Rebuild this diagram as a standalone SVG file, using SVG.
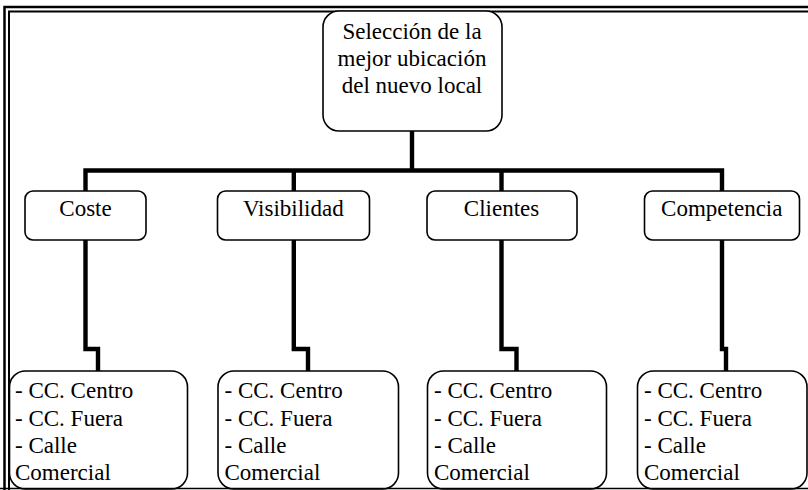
<svg xmlns="http://www.w3.org/2000/svg" width="808" height="490" viewBox="0 0 808 490" font-family="'Liberation Serif', 'Times New Roman', serif" font-size="23">
<style>
.box{fill:#fff;stroke:#000;stroke-width:1.6}
.t{fill:#000}
.c{text-anchor:middle}
.conn{fill:none;stroke:#000;stroke-width:4.4;stroke-linejoin:miter}
.frame{fill:none;stroke:#000}
</style>
<rect width="808" height="490" fill="#fff"/>
<g id="frame">
<path class="frame" d="M4.5,490 V7 H808" stroke-width="2.5"/>
<path class="frame" d="M9,490 V11.5 H808" stroke-width="2"/>
</g>
<g id="connectors">
<path class="conn" d="M412,131 V170.5"/>
<path class="conn" d="M85.5,191 V170.5 H722 V191"/>
<path class="conn" d="M293.8,170.5 V191"/>
<path class="conn" d="M501.5,170.5 V191"/>
<path class="conn" d="M85.5,240 V349 H98 V371"/>
<path class="conn" d="M293.8,240 V349 H308 V371"/>
<path class="conn" d="M501.5,240 V349 H516.5 V371"/>
<path class="conn" d="M722,240 V349 H726 V371"/>
</g>
<g id="root">
<rect class="box" x="323" y="11" width="179" height="120" rx="16"/>
<text class="t c" x="412" y="39">Selección de la</text>
<text class="t c" x="412" y="66">mejor ubicación</text>
<text class="t c" x="412" y="93">del nuevo local</text>
</g>
<g id="coste">
<rect class="box" x="25" y="191" width="121" height="49" rx="8"/>
<text class="t c" x="85.5" y="216">Coste</text>
</g>
<g id="visibilidad">
<rect class="box" x="217.5" y="191" width="152" height="49" rx="8"/>
<text class="t c" x="293.3" y="216">Visibilidad</text>
</g>
<g id="clientes">
<rect class="box" x="427" y="191" width="150" height="49" rx="8"/>
<text class="t c" x="501.5" y="216">Clientes</text>
</g>
<g id="competencia">
<rect class="box" x="644.5" y="191" width="155" height="49" rx="8"/>
<text class="t c" x="721.8" y="216">Competencia</text>
</g>
<g id="coste-opciones">
<rect class="box" x="9.5" y="371" width="178" height="118" rx="16"/>
<text class="t" x="15" y="398">- CC. Centro</text>
<text class="t" x="15" y="425.5">- CC. Fuera</text>
<text class="t" x="15" y="452.5">- Calle</text>
<text class="t" x="15" y="479.5">Comercial</text>
</g>
<g id="visibilidad-opciones">
<rect class="box" x="218" y="371" width="180.5" height="118" rx="16"/>
<text class="t" x="224.5" y="398">- CC. Centro</text>
<text class="t" x="224.5" y="425.5">- CC. Fuera</text>
<text class="t" x="224.5" y="452.5">- Calle</text>
<text class="t" x="224.5" y="479.5">Comercial</text>
</g>
<g id="clientes-opciones">
<rect class="box" x="427.5" y="371" width="179" height="118" rx="16"/>
<text class="t" x="434" y="398">- CC. Centro</text>
<text class="t" x="434" y="425.5">- CC. Fuera</text>
<text class="t" x="434" y="452.5">- Calle</text>
<text class="t" x="434" y="479.5">Comercial</text>
</g>
<g id="competencia-opciones">
<rect class="box" x="637.5" y="371" width="169.5" height="118" rx="16"/>
<text class="t" x="644" y="398">- CC. Centro</text>
<text class="t" x="644" y="425.5">- CC. Fuera</text>
<text class="t" x="644" y="452.5">- Calle</text>
<text class="t" x="644" y="479.5">Comercial</text>
</g>
<path class="frame" d="M0,488.5 H808" stroke-width="1.5"/>
</svg>
